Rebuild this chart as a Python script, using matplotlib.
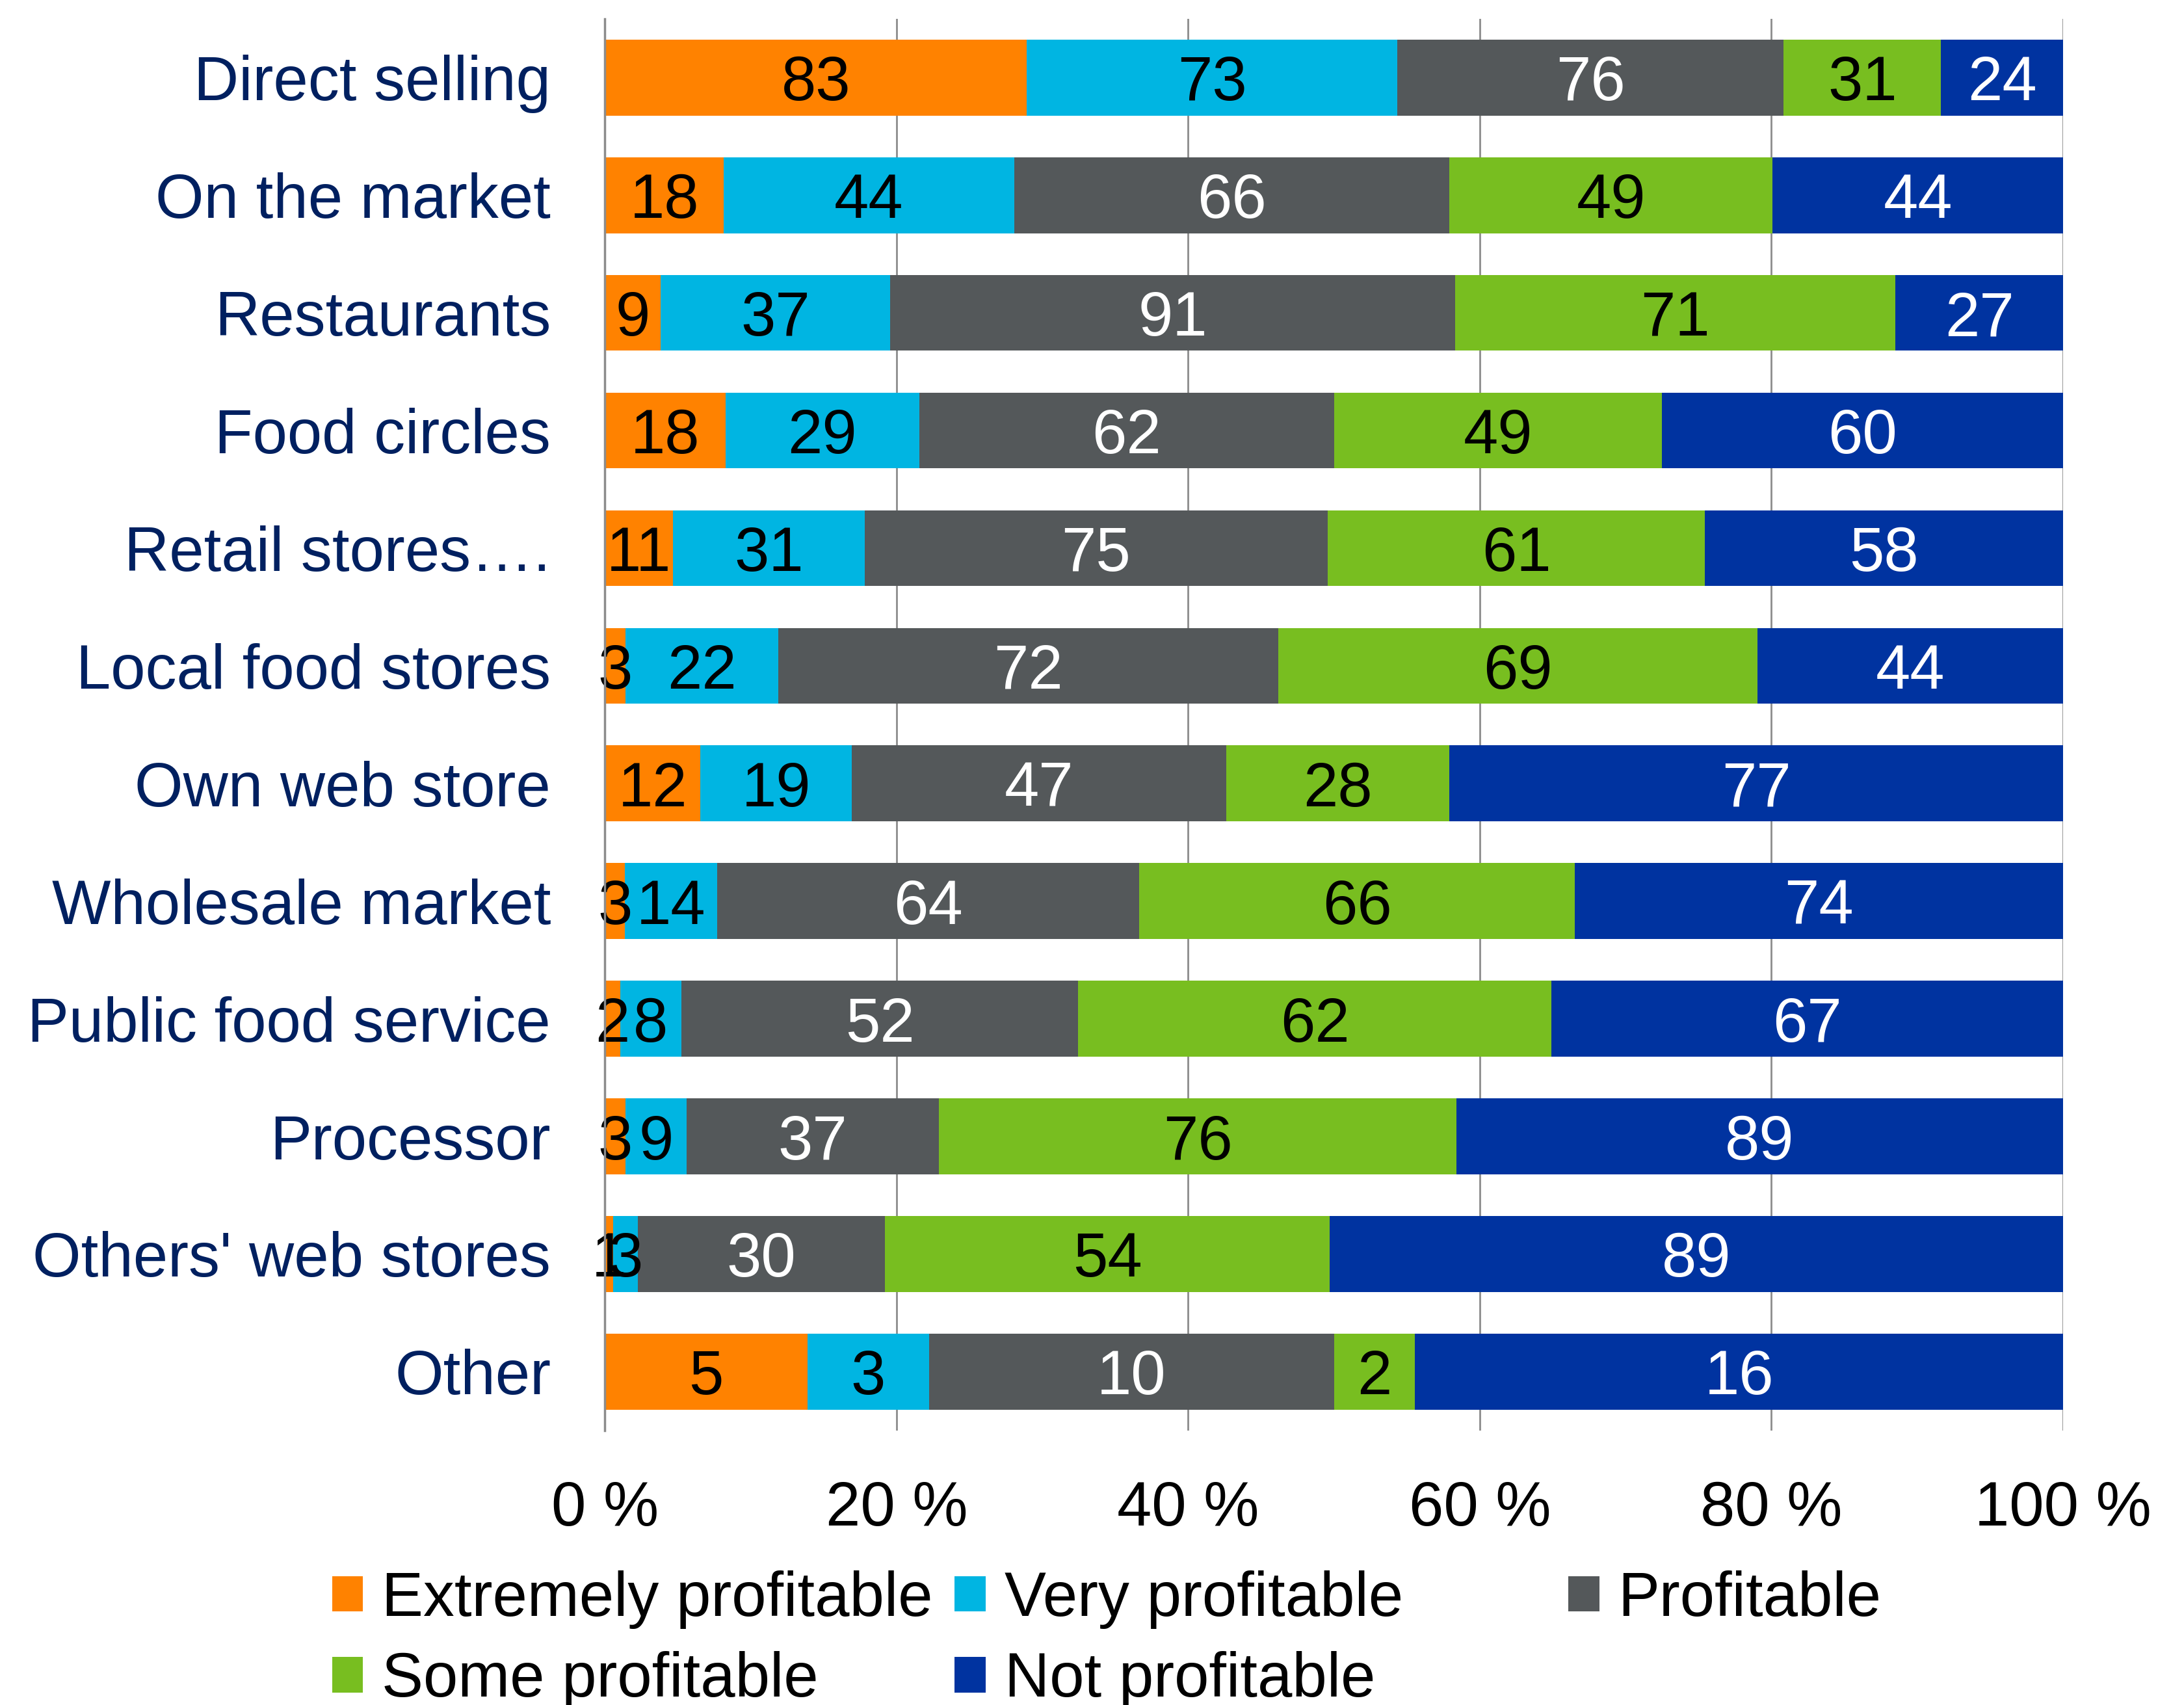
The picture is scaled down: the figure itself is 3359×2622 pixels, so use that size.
import matplotlib.pyplot as plt
import numpy as np

plt.rcParams['font.family'] = ['Liberation Sans', 'DejaVu Sans']

channels = ["Direct selling", "On the market", "Restaurants", "Food circles",
            "Retail stores….", "Local food stores", "Own web store",
            "Wholesale market", "Public food service", "Processor",
            "Others' web stores", "Other"]

series = ["Extremely profitable", "Very profitable", "Profitable",
          "Some profitable", "Not profitable"]

extremely = [83, 18, 9, 18, 11, 3, 12, 3, 2, 3, 1, 5]
very = [73, 44, 37, 29, 31, 22, 19, 14, 8, 9, 3, 3]
profitable = [76, 66, 91, 62, 75, 72, 47, 64, 52, 37, 30, 10]
some = [31, 49, 71, 49, 61, 69, 28, 66, 62, 76, 54, 2]
not_prof = [24, 44, 27, 60, 58, 44, 77, 74, 67, 89, 89, 16]

colors = ["#FF8200", "#00B5E2", "#54585A", "#78BE20", "#0033A0"]
text_colors = ["black", "black", "white", "black", "white"]

counts = np.array([extremely, very, profitable, some, not_prof], dtype=float)
shares = counts / counts.sum(axis=0) * 100

fig = plt.figure(figsize=(33.59, 26.22), dpi=100)
ax = fig.add_axes([0.277, 0.161, 0.6676, 0.828])

y = np.arange(len(channels))
left = np.zeros(len(channels))
handles = []
for i, name in enumerate(series):
    bars = ax.barh(y, shares[i], left=left, height=0.645, color=colors[i],
                   label=name, zorder=3)
    handles.append(bars)
    for j in range(len(channels)):
        ax.text(left[j] + shares[i][j] / 2, y[j], str(int(counts[i][j])),
                ha='center', va='center_baseline', fontsize=69,
                color=text_colors[i], zorder=4)
    left += shares[i]

ax.set_xlim(0, 100)
ax.set_ylim(len(channels) - 0.5, -0.5)
ax.set_yticks(y)
ax.set_yticklabels(channels, fontsize=69, color="#002060")
ax.set_xticks([0, 20, 40, 60, 80, 100])
ax.set_xticklabels(["0 %", "20 %", "40 %", "60 %", "80 %", "100 %"], fontsize=69)
ax.tick_params(axis='y', length=0, pad=60)
ax.tick_params(axis='x', length=0, pad=55)
ax.grid(axis='x', color="#8C8C8C", linewidth=2, zorder=0)
for s in ['top', 'right', 'bottom']:
    ax.spines[s].set_visible(False)
ax.spines['left'].set_color("#8C8C8C")
ax.spines['left'].set_linewidth(2.5)
ax.spines['left'].set_zorder(5)

leg_kw = dict(frameon=False, fontsize=69, handlelength=0.5, handleheight=0.5,
              handletextpad=0.3, labelspacing=0.36, borderpad=0, borderaxespad=0)
leg1 = fig.legend([handles[0], handles[3], handles[1], handles[4]],
                  [series[0], series[3], series[1], series[4]],
                  ncol=2, columnspacing=0.35, loc='upper left',
                  bbox_to_anchor=(0.152, 0.079), **leg_kw)
leg2 = fig.legend([handles[2]], [series[2]], loc='upper left',
                  bbox_to_anchor=(0.718, 0.079), **leg_kw)

fig.savefig("out.png", dpi=100)
